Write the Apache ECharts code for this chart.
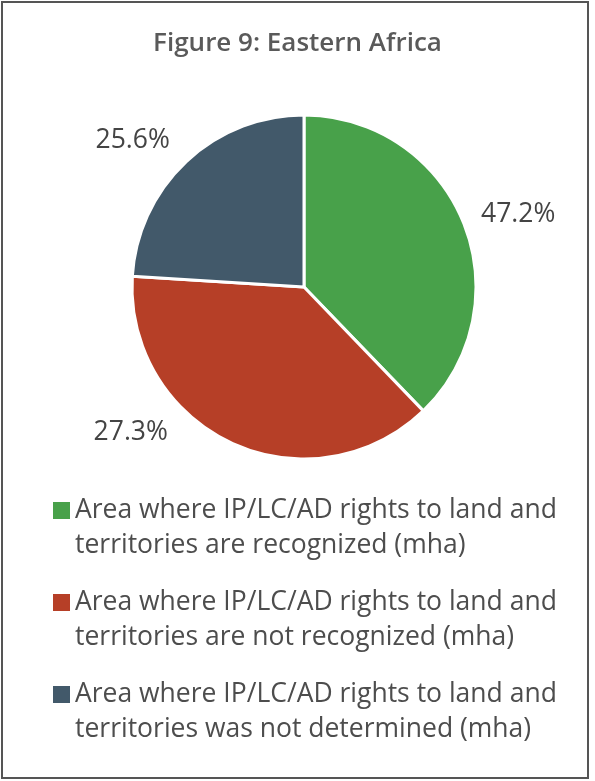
<!DOCTYPE html>
<html lang="en">
<head>
    <meta charset="UTF-8">
    <title>Figure 9: Eastern Africa</title>
    <style>
        html, body { margin: 0; padding: 0; background: #fff; }
        #chart { width: 595px; height: 781px; }
    </style>
</head>
<body>
<div id="chart"></div>
<script type="text/javascript" src="https://cdn.jsdelivr.net/npm/echarts@6/dist/echarts.min.js"></script>
<script type="text/javascript">
// slice sizes as drawn (share of the circle), label texts as printed
var categories = [
    'Area where IP/LC/AD rights to land and\nterritories are recognized (mha)',
    'Area where IP/LC/AD rights to land and\nterritories are not recognized (mha)',
    'Area where IP/LC/AD rights to land and\nterritories was not determined (mha)'
];
var sliceValues = [37.8, 38.2, 24.0];
var labelTexts = ['47.2%', '27.3%', '25.6%'];
var colors = ['#48a14a', '#b63f27', '#42596a'];
// label nudges from the default outside spot
var labelOffsets = [[-2, 0], [-55, -30], [-2, -6]];

var myChart = echarts.init(document.getElementById('chart'));

// legend square sits on the first text line
var legendIcon = 'path://M0,0L17,0M0,9H17V26H0ZM0,70L17,70';

var pieData = categories.map(function (name, i) {
    return {
        name: name,
        value: sliceValues[i],
        itemStyle: { color: colors[i] },
        label: { offset: labelOffsets[i] }
    };
});

var option = {
    animation: false,
    title: {
        text: 'Figure 9: Eastern Africa',
        left: 'center',
        top: 26,
        textStyle: {
            fontFamily: 'Open Sans',
            fontSize: 26,
            fontWeight: 600,
            color: '#5a5a5a'
        }
    },
    graphic: [{
        type: 'rect',
        shape: { x: 2, y: 2, width: 586, height: 776 },
        style: { fill: 'none', stroke: '#555', lineWidth: 2 },
        silent: true
    }],
    legend: {
        orient: 'vertical',
        left: 48,
        top: 488,
        itemWidth: 17,
        itemHeight: 70,
        itemGap: 22,
        icon: legendIcon,
        itemStyle: { borderWidth: 0 },
        selectedMode: false,
        textStyle: {
            fontFamily: 'Open Sans',
            fontSize: 26.5,
            lineHeight: 35,
            color: '#4d4d4d'
        },
        data: categories
    },
    series: [{
        type: 'pie',
        center: [304, 287],
        radius: 172,
        startAngle: 90,
        clockwise: true,
        avoidLabelOverlap: false,
        itemStyle: { borderColor: '#fff', borderWidth: 3 },
        label: {
            show: true,
            position: 'outside',
            distanceToLabelLine: 0,
            fontFamily: 'Open Sans',
            fontSize: 26.5,
            color: '#444',
            formatter: function (p) { return labelTexts[p.dataIndex]; }
        },
        labelLine: { show: false, length: 21, length2: 0 },
        emphasis: { disabled: true },
        data: pieData
    }]
};
myChart.setOption(option);
</script>
</body>
</html>
